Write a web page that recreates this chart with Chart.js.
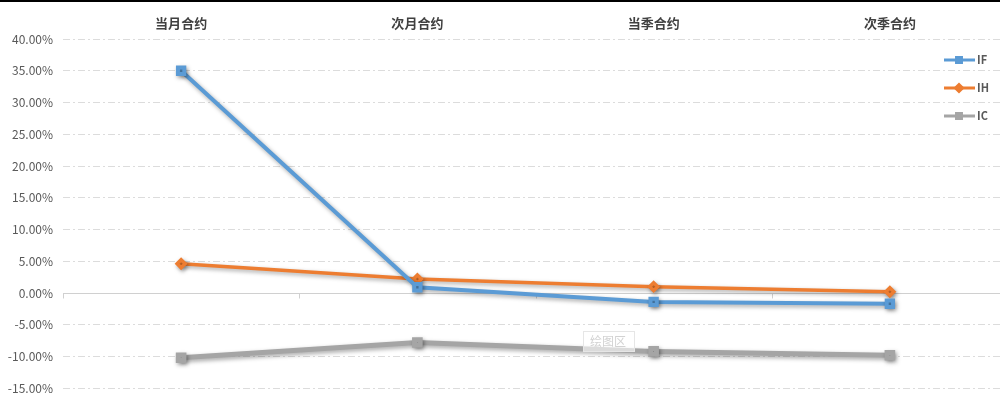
<!DOCTYPE html>
<html>
<head>
<meta charset="utf-8">
<script src="https://cdn.jsdelivr.net/npm/chart.js@4"></script>
<style>
  html, body { margin: 0; padding: 0; background: #fff; }
  #wrap { position: relative; width: 1000px; height: 408px; overflow: hidden; }
  #topline { position: absolute; left: 0; top: 0; width: 1000px; height: 2px; background: #000; z-index: 2; }
  #chart { position: absolute; left: 0; top: 0; }
</style>
</head>
<body>
<div id="wrap">
  <div id="topline"></div>
  <canvas id="chart" width="1017" height="440"></canvas>
</div>
<script>
"use strict";
const categories = ["当月合约", "次月合约", "当季合约", "次季合约"];
const seriesNames = ["IF", "IH", "IC"];
const ifValues = [35.0, 0.9, -1.4, -1.7];
const ihValues = [4.6, 2.2, 1.0, 0.2];
const icValues = [-10.2, -7.8, -9.2, -9.8];
const seriesColors = ["#5B9BD5", "#ED7D31", "#A5A5A5"];
const yTicks = [40, 35, 30, 25, 20, 15, 10, 5, 0, -5, -10, -15, -20];

const FONT = "'Noto Sans CJK SC', 'Noto Sans', sans-serif";

// shadow under each line, like the Excel effect
const shadowPlugin = {
    id: "shadow",
    beforeDatasetDraw(chart) {
        const ctx = chart.ctx;
        ctx.save();
        ctx.shadowColor = "rgba(0,0,0,0.35)";
        ctx.shadowBlur = 4;
        ctx.shadowOffsetX = 1.5;
        ctx.shadowOffsetY = 2;
    },
    afterDatasetDraw(chart) {
        chart.ctx.restore();
    }
};

// zero line, category ticks, legend and the "绘图区" label
const extrasPlugin = {
    id: "extras",
    beforeDatasetsDraw(chart) {
        const ctx = chart.ctx;
        const x = chart.scales.x;
        const y = chart.scales.y;
        const area = chart.chartArea;
        const y0 = Math.round(y.getPixelForValue(0)) + 0.5;
        ctx.save();
        ctx.strokeStyle = "#D0D0D0";
        ctx.lineWidth = 1;
        ctx.beginPath();
        ctx.moveTo(area.left, y0);
        ctx.lineTo(area.right, y0);
        ctx.moveTo(area.left + 0.5, y0);
        ctx.lineTo(area.left + 0.5, y0 + 5);
        for (let i = 1; i < categories.length; i++) {
            const xm = Math.round((x.getPixelForTick(i - 1) + x.getPixelForTick(i)) / 2) + 0.5;
            ctx.moveTo(xm, y0);
            ctx.lineTo(xm, y0 + 5);
        }
        ctx.stroke();
        ctx.restore();
    },
    afterDraw(chart) {
        const ctx = chart.ctx;
        ctx.save();
        // faint plot-area tag
        ctx.strokeStyle = "#E6E6E6";
        ctx.fillStyle = "rgba(255,255,255,0.6)";
        ctx.fillRect(583, 331, 51, 20);
        ctx.strokeRect(583.5, 331.5, 51, 20);
        ctx.fillStyle = "#D2D2D2";
        ctx.font = "12px " + FONT;
        ctx.textBaseline = "middle";
        ctx.fillText("绘图区", 590, 341);
        // legend
        const styles = ["rect", "rectRot", "rect"];
        seriesNames.forEach((name, i) => {
            const ly = 60 + i * 28;
            ctx.strokeStyle = seriesColors[i];
            ctx.fillStyle = seriesColors[i];
            ctx.lineWidth = 3;
            ctx.beginPath();
            ctx.moveTo(944, ly);
            ctx.lineTo(975, ly);
            ctx.stroke();
            Chart.helpers.drawPoint(ctx, { pointStyle: styles[i], radius: 3.5, borderWidth: 1 }, 959, ly);
            ctx.fill();
            ctx.fillStyle = "#595959";
            ctx.font = "bold 11px " + FONT;
            ctx.textBaseline = "middle";
            ctx.fillText(name, 977, ly);
        });
        ctx.restore();
    }
};

const ctx = document.getElementById("chart").getContext("2d");
new Chart(ctx, {
    type: "line",
    data: {
        labels: categories,
        datasets: [
            { label: seriesNames[0], data: ifValues, borderColor: seriesColors[0], backgroundColor: seriesColors[0],
              borderWidth: 4, pointStyle: "rect", pointRadius: 4.5 },
            { label: seriesNames[1], data: ihValues, borderColor: seriesColors[1], backgroundColor: seriesColors[1],
              borderWidth: 3.5, pointStyle: "rectRot", pointRadius: 4 },
            { label: seriesNames[2], data: icValues, borderColor: seriesColors[2], backgroundColor: seriesColors[2],
              borderWidth: 5, pointStyle: "rect", pointRadius: 4 }
        ]
    },
    options: {
        responsive: false,
        maintainAspectRatio: false,
        animation: false,
        devicePixelRatio: 1,
        layout: { padding: { left: 0, right: 0, top: 0, bottom: 20 } },
        plugins: { legend: { display: false }, tooltip: { enabled: false } },
        scales: {
            x: {
                position: "top",
                offset: true,
                grid: { display: false },
                border: { display: false },
                ticks: { color: "#404040", font: { family: FONT, size: 13, weight: "bold" }, padding: 0 },
                afterFit(scale) { scale.height = 39; }
            },
            y: {
                min: -20,
                max: 40,
                afterBuildTicks(scale) { scale.ticks = yTicks.map(v => ({ value: v })); },
                ticks: {
                    color: "#595959",
                    font: { family: FONT, size: 12 },
                    padding: 10,
                    callback: v => v.toFixed(2) + "%"
                },
                grid: {
                    color: c => c.tick && c.tick.value === 0 ? "rgba(0,0,0,0)" : "#DCDCDC",
                    drawTicks: false,
                    lineWidth: 1
                },
                border: { display: false, dash: [7, 3, 2, 3] },
                afterFit(scale) { scale.width = 63; }
            }
        }
    },
    plugins: [shadowPlugin, extrasPlugin]
});
</script>
</body>
</html>
